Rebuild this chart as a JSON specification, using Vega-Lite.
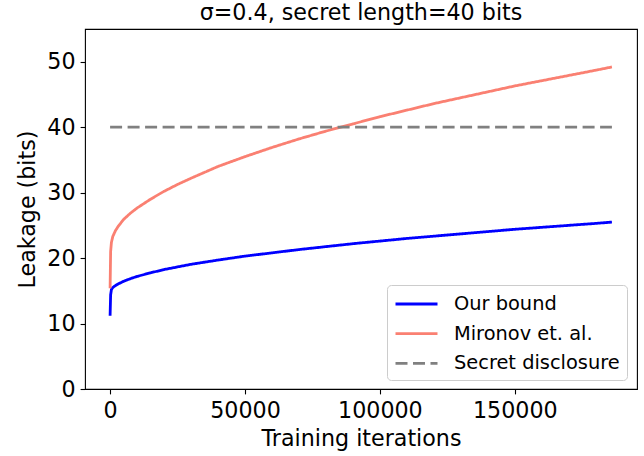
{
  "$schema": "https://vega.github.io/schema/vega-lite/v6.json",
  "width": 552,
  "height": 360,
  "autosize": {"type": "none"},
  "padding": {"left": 85, "top": 29, "right": 7, "bottom": 67},
  "background": "white",
  "title": {
    "text": "σ=0.4, secret length=40 bits",
    "font": "DejaVu Sans",
    "fontSize": 22.2,
    "fontWeight": "normal",
    "color": "black",
    "anchor": "middle",
    "baseline": "alphabetic",
    "offset": -13
  },
  "config": {
    "font": "DejaVu Sans",
    "view": {"stroke": "black", "strokeWidth": 1.1},
    "axis": {
      "labelFont": "DejaVu Sans",
      "titleFont": "DejaVu Sans",
      "labelFontSize": 22.2,
      "titleFontSize": 22.2,
      "titleFontWeight": "normal",
      "labelColor": "black",
      "titleColor": "black",
      "tickColor": "black",
      "tickWidth": 1.1,
      "tickSize": 4.9,
      "grid": false,
      "domain": false
    },
    "legend": {
      "orient": "none",
      "legendX": 302,
      "legendY": 256,
      "symbolType": "M-1,0H3",
      "symbolSize": 441,
      "symbolStrokeWidth": 2.8,
      "labelFont": "DejaVu Sans",
      "labelFontSize": 19.4,
      "labelColor": "black",
      "labelOffset": 36,
      "labelLimit": 400,
      "rowPadding": 7.7,
      "padding": 7,
      "strokeColor": "#cccccc",
      "fillColor": "white",
      "cornerRadius": 4
    }
  },
  "data": {
    "values": [
      {"series": "Our bound", "T": 0, "leak": 11.2},
      {"series": "Our bound", "T": 200, "leak": 14.4},
      {"series": "Our bound", "T": 500, "leak": 15.2},
      {"series": "Our bound", "T": 1000, "leak": 15.5},
      {"series": "Our bound", "T": 2000, "leak": 15.8},
      {"series": "Our bound", "T": 3000, "leak": 16.05},
      {"series": "Our bound", "T": 5000, "leak": 16.45},
      {"series": "Our bound", "T": 7500, "leak": 16.85},
      {"series": "Our bound", "T": 10000, "leak": 17.2},
      {"series": "Our bound", "T": 15000, "leak": 17.75},
      {"series": "Our bound", "T": 20000, "leak": 18.25},
      {"series": "Our bound", "T": 25000, "leak": 18.65},
      {"series": "Our bound", "T": 30000, "leak": 19.05},
      {"series": "Our bound", "T": 40000, "leak": 19.7},
      {"series": "Our bound", "T": 50000, "leak": 20.3},
      {"series": "Our bound", "T": 60000, "leak": 20.8},
      {"series": "Our bound", "T": 70000, "leak": 21.3},
      {"series": "Our bound", "T": 80000, "leak": 21.75},
      {"series": "Our bound", "T": 90000, "leak": 22.2},
      {"series": "Our bound", "T": 100000, "leak": 22.6},
      {"series": "Our bound", "T": 110000, "leak": 23.0},
      {"series": "Our bound", "T": 120000, "leak": 23.35},
      {"series": "Our bound", "T": 130000, "leak": 23.7},
      {"series": "Our bound", "T": 140000, "leak": 24.05},
      {"series": "Our bound", "T": 150000, "leak": 24.4},
      {"series": "Our bound", "T": 160000, "leak": 24.7},
      {"series": "Our bound", "T": 170000, "leak": 25.0},
      {"series": "Our bound", "T": 180000, "leak": 25.3},
      {"series": "Our bound", "T": 186000, "leak": 25.5},
      {"series": "Mironov et. al.", "T": 0, "leak": 15.4},
      {"series": "Mironov et. al.", "T": 200, "leak": 21.0},
      {"series": "Mironov et. al.", "T": 500, "leak": 22.4},
      {"series": "Mironov et. al.", "T": 1000, "leak": 23.3},
      {"series": "Mironov et. al.", "T": 2000, "leak": 24.2},
      {"series": "Mironov et. al.", "T": 3000, "leak": 24.85},
      {"series": "Mironov et. al.", "T": 5000, "leak": 25.9},
      {"series": "Mironov et. al.", "T": 7500, "leak": 26.85},
      {"series": "Mironov et. al.", "T": 10000, "leak": 27.65},
      {"series": "Mironov et. al.", "T": 15000, "leak": 29.0},
      {"series": "Mironov et. al.", "T": 20000, "leak": 30.2},
      {"series": "Mironov et. al.", "T": 25000, "leak": 31.25},
      {"series": "Mironov et. al.", "T": 30000, "leak": 32.2},
      {"series": "Mironov et. al.", "T": 40000, "leak": 34.0},
      {"series": "Mironov et. al.", "T": 50000, "leak": 35.5},
      {"series": "Mironov et. al.", "T": 60000, "leak": 36.9},
      {"series": "Mironov et. al.", "T": 70000, "leak": 38.2},
      {"series": "Mironov et. al.", "T": 80000, "leak": 39.4},
      {"series": "Mironov et. al.", "T": 90000, "leak": 40.5},
      {"series": "Mironov et. al.", "T": 100000, "leak": 41.6},
      {"series": "Mironov et. al.", "T": 110000, "leak": 42.6},
      {"series": "Mironov et. al.", "T": 120000, "leak": 43.6},
      {"series": "Mironov et. al.", "T": 130000, "leak": 44.5},
      {"series": "Mironov et. al.", "T": 140000, "leak": 45.4},
      {"series": "Mironov et. al.", "T": 150000, "leak": 46.3},
      {"series": "Mironov et. al.", "T": 160000, "leak": 47.1},
      {"series": "Mironov et. al.", "T": 170000, "leak": 47.9},
      {"series": "Mironov et. al.", "T": 180000, "leak": 48.7},
      {"series": "Mironov et. al.", "T": 186000, "leak": 49.2},
      {"series": "Secret disclosure", "T": 0, "leak": 40},
      {"series": "Secret disclosure", "T": 186000, "leak": 40}
    ]
  },
  "mark": {"type": "line", "strokeWidth": 2.8, "clip": true},
  "encoding": {
    "x": {
      "field": "T",
      "type": "quantitative",
      "scale": {"domain": [-9300, 195300], "nice": false, "zero": false},
      "axis": {
        "values": [0, 50000, 100000, 150000],
        "format": "d",
        "title": "Training iterations",
        "labelPadding": 6,
        "titlePadding": 5
      }
    },
    "y": {
      "field": "leak",
      "type": "quantitative",
      "scale": {"domain": [0, 55], "nice": false},
      "axis": {
        "values": [0, 10, 20, 30, 40, 50],
        "title": "Leakage (bits)",
        "labelPadding": 5,
        "titlePadding": 7
      }
    },
    "color": {
      "field": "series",
      "type": "nominal",
      "scale": {
        "domain": ["Our bound", "Mironov et. al.", "Secret disclosure"],
        "range": ["#0000ff", "#fa8072", "#808080"]
      },
      "legend": {"title": null}
    },
    "strokeDash": {
      "field": "series",
      "type": "nominal",
      "scale": {
        "domain": ["Our bound", "Mironov et. al.", "Secret disclosure"],
        "range": [[1, 0], [1, 0], [12, 5.5]]
      },
      "legend": {"title": null}
    }
  }
}
